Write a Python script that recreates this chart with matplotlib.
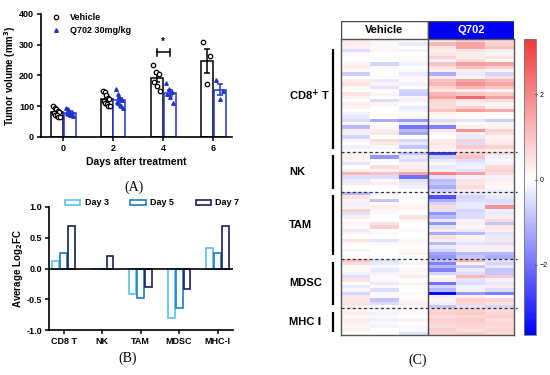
import matplotlib.pyplot as plt
import numpy as np
from matplotlib.colors import LinearSegmentedColormap
from matplotlib.transforms import blended_transform_factory
from matplotlib.lines import Line2D
from matplotlib.patches import Rectangle

plt.rcParams['font.family'] = ['Liberation Sans', 'DejaVu Sans']
plt.rcParams['font.weight'] = 'bold'
plt.rcParams['axes.labelweight'] = 'bold'

# ---------------- data ----------------
# (A) tumor volume, individual animals
days = ['0', '2', '4', '6']
vehicle_pts = [
    [100, 95, 90, 85, 80, 78, 72, 70, 65, 65],
    [150, 145, 135, 128, 122, 118, 112, 108, 102, 100],
    [233, 213, 205, 180, 165, 150],
    [308, 262, 172],
]
q702_pts = [
    [95, 90, 85, 82, 80, 78, 75, 72, 70, 68],
    [155, 140, 130, 125, 120, 115, 110, 105, 100, 95],
    [177, 155, 145, 140, 130, 110],
    [185, 150, 125],
]

# (B) average log2 fold change
cell_types = ['CD8 T', 'NK', 'TAM', 'MDSC', 'MHC-I']
day3 = [0.13, -0.01, -0.41, -0.80, 0.34]
day5 = [0.25, -0.01, -0.48, -0.65, 0.26]
day7 = [0.69, 0.20, -0.30, -0.34, 0.69]

# (C) heatmap rows: Vehicle x3, Q702 x3
cd8_rows = [
    [0.4, 0.2, 0.1, 0.3, 0.8, 0.6],
    [0.3, -0.1, -0.3, 1.2, 1.5, 0.8],
    [0.2, 0.1, 0.0, 0.5, 1.5, 1.0],
    [-0.5, 0.2, -0.2, 0.3, 0.5, 0.3],
    [0.1, 0.0, 0.0, 0.4, 0.3, 0.2],
    [0.0, 0.0, 0.1, 0.8, 0.3, 0.5],
    [0.0, 0.0, 0.1, -0.2, 0.6, 0.1],
    [0.2, -0.6, -0.2, 1.0, 1.6, 1.5],
    [0.3, 0.1, 0.0, 0.5, 1.0, 0.8],
    [0.1, 0.0, 0.1, 0.3, 0.3, 0.2],
    [-0.7, 0.0, -0.3, -1.2, -0.3, -0.6],
    [0.0, 0.1, 0.1, 0.4, 0.2, 0.5],
    [0.3, -0.3, -0.1, 1.0, 1.5, 1.2],
    [0.5, 0.2, -0.2, 1.2, 1.8, 1.5],
    [0.1, -0.4, 0.0, 0.7, 1.2, 1.0],
    [0.0, 0.0, -0.6, 0.4, 0.3, 0.2],
    [0.5, 0.2, -0.7, 1.2, 1.0, 0.9],
    [0.2, 0.0, 0.2, 1.5, 2.5, 1.6],
    [0.0, -0.5, -0.2, 0.7, 0.4, 0.6],
    [0.3, 0.2, 0.0, 0.6, 0.3, 0.2],
    [0.2, 0.0, -0.3, 0.6, 0.8, 0.3],
    [0.0, 0.0, -0.2, 1.0, 1.6, 1.4],
    [-0.2, 0.0, 0.0, 0.2, 0.1, 0.1],
    [-0.3, 0.0, -0.1, 0.1, 0.1, 0.0],
    [-0.5, -1.2, -1.5, -0.5, -0.4, -0.7],
    [0.1, 0.0, -0.3, 0.3, 0.0, 0.2],
    [-1.0, 0.1, -2.0, -1.8, 0.3, 0.2],
    [0.3, 0.3, -1.0, 0.4, 1.8, 0.8],
    [-0.2, 0.4, -1.3, 0.2, 0.3, 0.6],
    [-0.6, 0.0, 0.0, 0.0, -0.3, 0.2],
    [0.2, 0.6, -0.6, 0.3, 0.8, 0.3],
    [0.0, 0.4, -0.3, 0.4, -0.5, 0.4],
    [-0.2, -0.1, -0.8, 0.3, 0.9, 0.8],
    [0.1, 0.0, 0.1, 0.2, 0.4, 0.3],
]
nk_rows = [
    [0.3, -0.2, -0.8, -2.8, 0.8, 0.6],
    [0.2, -1.5, -0.3, -0.7, 1.0, -0.2],
    [0.2, 0.1, -0.5, -0.3, -0.5, -0.1],
    [-0.4, 0.0, 0.2, 0.1, -0.3, -0.2],
    [0.0, 0.6, 0.3, -0.3, -0.2, 0.6],
    [0.3, 0.2, 0.4, 0.2, -0.4, 0.8],
    [1.2, 1.0, 1.5, 2.0, 1.6, 0.6],
    [-0.5, -0.5, -2.0, -0.4, -0.2, -0.2],
    [-0.3, 0.1, -0.4, -1.0, 0.5, 0.3],
    [0.4, 0.3, -0.3, -0.8, 0.4, 0.2],
    [0.0, 0.0, -0.2, -1.2, 0.6, 0.1],
    [0.1, 0.0, 0.0, -0.6, 0.3, -0.2],
]
tam_rows = [
    [-1.0, -0.2, 0.0, -0.3, -0.3, -0.2],
    [0.5, 0.1, -0.1, -2.5, -0.6, -0.3],
    [0.2, -0.8, 0.0, -1.2, -0.5, -0.5],
    [-0.2, 0.0, 0.1, -0.6, -0.3, -0.4],
    [0.2, 0.3, 0.2, 0.6, -0.3, 1.8],
    [0.8, 0.2, 0.1, -0.4, -0.6, -0.2],
    [-0.4, -0.1, 0.0, -1.5, -0.5, -0.3],
    [0.3, 0.0, 0.5, -1.0, -0.5, 0.3],
    [0.0, 0.0, 0.2, -0.3, 0.2, 0.6],
    [0.2, 0.5, 0.0, -1.5, -0.2, -0.8],
    [0.1, 0.8, 0.0, -0.4, 0.1, 0.4],
    [-0.3, 0.0, 0.1, 0.3, -0.3, 0.3],
    [0.2, 0.1, 0.0, -1.2, -1.0, -0.4],
    [0.0, 0.0, 0.0, 0.5, 0.2, -0.3],
    [0.5, -0.4, 0.1, 0.3, -0.2, 0.4],
    [0.1, 0.1, 0.1, -1.0, -0.4, -0.5],
    [0.0, 0.0, 0.0, -0.3, 0.3, 0.3],
    [0.2, 0.0, 0.1, -0.6, -0.2, -0.2],
    [0.0, 0.0, 0.2, -1.3, -1.0, -1.0],
    [0.1, 0.0, 0.0, -1.5, -0.8, -1.2],
]
mdsc_rows = [
    [1.0, -0.4, 0.0, -0.8, 1.2, -0.4],
    [0.6, -0.3, -0.2, -1.8, 0.2, -0.6],
    [0.1, -0.1, 0.0, -1.0, -0.8, -0.3],
    [0.1, -0.3, 0.2, -1.8, -0.3, -0.8],
    [-0.2, -0.2, 0.1, -0.6, -0.5, -0.8],
    [-0.5, 0.1, 0.3, 0.1, 1.2, 0.9],
    [0.5, 0.1, 0.0, 0.3, -0.4, -0.2],
    [0.0, -0.3, 0.2, -2.0, -0.5, -0.3],
    [-0.3, 0.1, 0.0, -0.6, -0.2, 0.3],
    [0.2, -0.5, 0.0, -1.0, -0.2, -0.5],
    [-0.6, -0.1, 0.1, -3.5, -1.5, -1.8],
    [0.4, 0.1, 0.0, -0.2, 0.3, -0.1],
    [0.4, -0.8, 0.1, 0.2, 0.8, 0.7],
    [0.5, -0.5, 0.3, -0.2, 0.7, 0.5],
    [0.2, 0.0, 0.1, -0.8, -0.4, -0.6],
]
mhc_rows = [
    [0.2, -0.1, 0.0, 0.7, 0.8, 0.6],
    [0.3, -0.2, 0.1, 0.8, 0.9, 0.7],
    [0.1, -0.1, 0.0, 0.6, 0.7, 0.8],
    [0.3, -0.2, 0.2, 0.8, 0.9, 0.6],
    [0.2, -0.1, 0.0, 0.7, 0.8, 0.7],
    [0.1, -0.2, 0.1, 0.6, 0.7, 0.6],
    [0.2, 0.0, -0.1, 0.8, 0.6, 0.7],
    [0.0, 0.0, -0.4, 0.7, 0.8, 0.6],
]
group_names = ['CD8$^{+}$ T', 'NK', 'TAM', 'MDSC', 'MHC Ⅰ']
group_rows = [cd8_rows, nk_rows, tam_rows, mdsc_rows, mhc_rows]

# ---------------- figure ----------------
W, H = 550, 375
fig = plt.figure(figsize=(5.5, 3.75), dpi=100)


def box(l, t, r, b):
    return [l / W, 1 - b / H, (r - l) / W, (b - t) / H]


blue = '#2233CC'

# ---- (A) ----
ax = fig.add_axes(box(41, 14, 232, 137))
xpos = np.arange(len(days))
off, bw = 0.13, 0.24
for pts_list, sign, col, mk, face in [(vehicle_pts, -1, 'black', 'o', 'white'),
                                      (q702_pts, 1, blue, '^', blue)]:
    means = np.array([np.mean(p) for p in pts_list])
    sems = np.array([np.std(p, ddof=1) / np.sqrt(len(p)) for p in pts_list])
    ax.bar(xpos + sign * off, means, bw, facecolor='white', edgecolor=col, lw=1.1, zorder=2)
    ax.errorbar(xpos + sign * off, means, yerr=sems, fmt='none', ecolor=col,
                elinewidth=1.1, capsize=2.5, capthick=1.1, zorder=3)
    for i, p in enumerate(pts_list):
        n = len(p)
        spread = np.linspace(-0.07, 0.07, n)
        jit = np.concatenate([spread[::2], spread[1::2]])
        ax.plot(xpos[i] + sign * off + jit, p, mk, ms=3.2 if mk == 'o' else 2.6,
                mfc=face, mec=col, mew=0.9, ls='none', zorder=4)

# significance bracket day 4
ax.plot([2 - off, 2 + off], [275, 275], color='black', lw=1.1)
ax.plot([2 - off, 2 - off], [263, 287], color='black', lw=1.1)
ax.plot([2 + off, 2 + off], [263, 287], color='black', lw=1.1)
ax.text(2, 292, '*', ha='center', va='bottom', fontsize=7)

ax.set_xlim(-0.44, 3.38)
ax.set_ylim(0, 400)
ax.set_yticks([0, 100, 200, 300, 400])
ax.set_xticks(xpos)
ax.set_xticklabels(days)
ax.spines[['top', 'right']].set_visible(False)
ax.spines[['left', 'bottom']].set_linewidth(1.2)
ax.tick_params(labelsize=6.5, width=1.1, length=3, pad=2)
ax.set_ylabel('Tumor volume (mm$^3$)', fontsize=7, labelpad=1)
ax.set_xlabel('Days after treatment', fontsize=7.5, labelpad=3)
handles = [Line2D([], [], marker='o', ls='none', mfc='white', mec='black', ms=3.2, mew=0.9),
           Line2D([], [], marker='^', ls='none', mfc=blue, mec=blue, ms=2.6)]
ax.legend(handles, ['Vehicle', 'Q702 30mg/kg'], loc='upper left', bbox_to_anchor=(0.0, 1.06),
          frameon=False, fontsize=6.5, handletextpad=0.5, labelspacing=0.5, borderpad=0.2)
fig.text(134 / W, 1 - 187 / H, '(A)', family='Liberation Serif', fontweight='normal',
         fontsize=10, ha='center', va='center')

# ---- (B) ----
bx = fig.add_axes(box(49, 207, 233, 330))
cpos = np.arange(len(cell_types))
bw2 = 0.18
for vals, k, col, lab in [(day3, -1, '#56C3EA', 'Day 3'), (day5, 0, '#1B7CC4', 'Day 5'),
                          (day7, 1, '#1C1C5C', 'Day 7')]:
    bx.bar(cpos + k * 0.205, vals, bw2, facecolor='white', edgecolor=col, lw=1.2, label=lab, zorder=2)
bx.axhline(0, color='black', lw=1.2, zorder=3)
bx.set_xlim(-0.38, 4.4)
bx.set_ylim(-1.0, 1.0)
bx.set_yticks([1.0, 0.5, 0.0, -0.5, -1.0])
bx.set_yticklabels(['1.0', '0.5', '0.0', '-0.5', '-1.0'])
bx.set_xticks(cpos)
bx.set_xticklabels(cell_types)
bx.spines[['top', 'right']].set_visible(False)
bx.spines[['left', 'bottom']].set_linewidth(1.2)
bx.tick_params(labelsize=6.5, width=1.1, length=3, pad=2)
bx.set_ylabel('Average Log$_2$FC', fontsize=7, labelpad=1)
bx.legend(loc='lower center', bbox_to_anchor=(0.56, 0.93), ncol=3, frameon=False, fontsize=6.5,
          handlelength=1.7, handleheight=0.5, columnspacing=2.4, handletextpad=0.5)
fig.text(128 / W, 1 - 358 / H, '(B)', family='Liberation Serif', fontweight='normal',
         fontsize=10, ha='center', va='center')

# ---- (C) ----
data = np.array([r for g in group_rows for r in g])
nrows = data.shape[0]
vmin, vmax = -3.65, 3.3
cmap = LinearSegmentedColormap.from_list(
    'bwr2', [(0, '#0000FF'), (-vmin / (vmax - vmin), '#FFFFFF'), (1, '#F03A3A')])

hx = fig.add_axes(box(341, 39, 514, 335))
mesh = hx.pcolormesh(np.arange(7), np.arange(nrows + 1), data, cmap=cmap, vmin=vmin, vmax=vmax)
hx.set_xlim(0, 6)
hx.set_ylim(nrows, 0)
hx.set_xticks([])
hx.set_yticks([])
for s in hx.spines.values():
    s.set_color('#555555')
    s.set_linewidth(1.0)
hx.axvline(3, color='#444444', lw=1.0)

tr = blended_transform_factory(hx.transAxes, hx.transData)
edges = np.cumsum([0] + [len(g) for g in group_rows])
for b in edges[1:-1]:
    hx.plot([0, 1.02], [b, b], transform=tr, color='#333333', lw=0.9, ls=(0, (2.5, 2)),
            clip_on=False, zorder=5)
for name, a, b in zip(group_names, edges[:-1], edges[1:]):
    pad = 3 if a == 0 else 1
    hx.plot([-0.046, -0.046], [a + pad, b - 1], transform=tr, color='black', lw=1.6,
            clip_on=False, solid_capstyle='butt')
    hx.text(-0.30, (a + b) / 2, name, transform=tr, ha='left', va='center', fontsize=8)

tx = fig.add_axes(box(341, 21, 514, 39))
tx.set_xlim(0, 2)
tx.set_ylim(0, 1)
tx.axis('off')
tx.add_patch(Rectangle((0, 0), 1, 1, facecolor='white', edgecolor='#444444', lw=1.0))
tx.add_patch(Rectangle((1, 0), 1, 1, facecolor='#0000F5', edgecolor='#444444', lw=1.0))
tx.text(0.5, 0.5, 'Vehicle', ha='center', va='center', fontsize=8, color='black')
tx.text(1.5, 0.5, 'Q702', ha='center', va='center', fontsize=8, color='white')

cx = fig.add_axes(box(524, 39, 536, 335))
cb = fig.colorbar(mesh, cax=cx, ticks=[-2, 0, 2])
cb.outline.set_edgecolor('#777777')
cb.outline.set_linewidth(0.6)
cx.tick_params(labelsize=5, length=2, width=0.6, direction='inout', pad=1.5)
for t in cx.get_yticklabels():
    t.set_fontweight('normal')
fig.text(418 / W, 1 - 360 / H, '(C)', family='Liberation Serif', fontweight='normal',
         fontsize=10, ha='center', va='center')

fig.savefig('out.png', dpi=100)
